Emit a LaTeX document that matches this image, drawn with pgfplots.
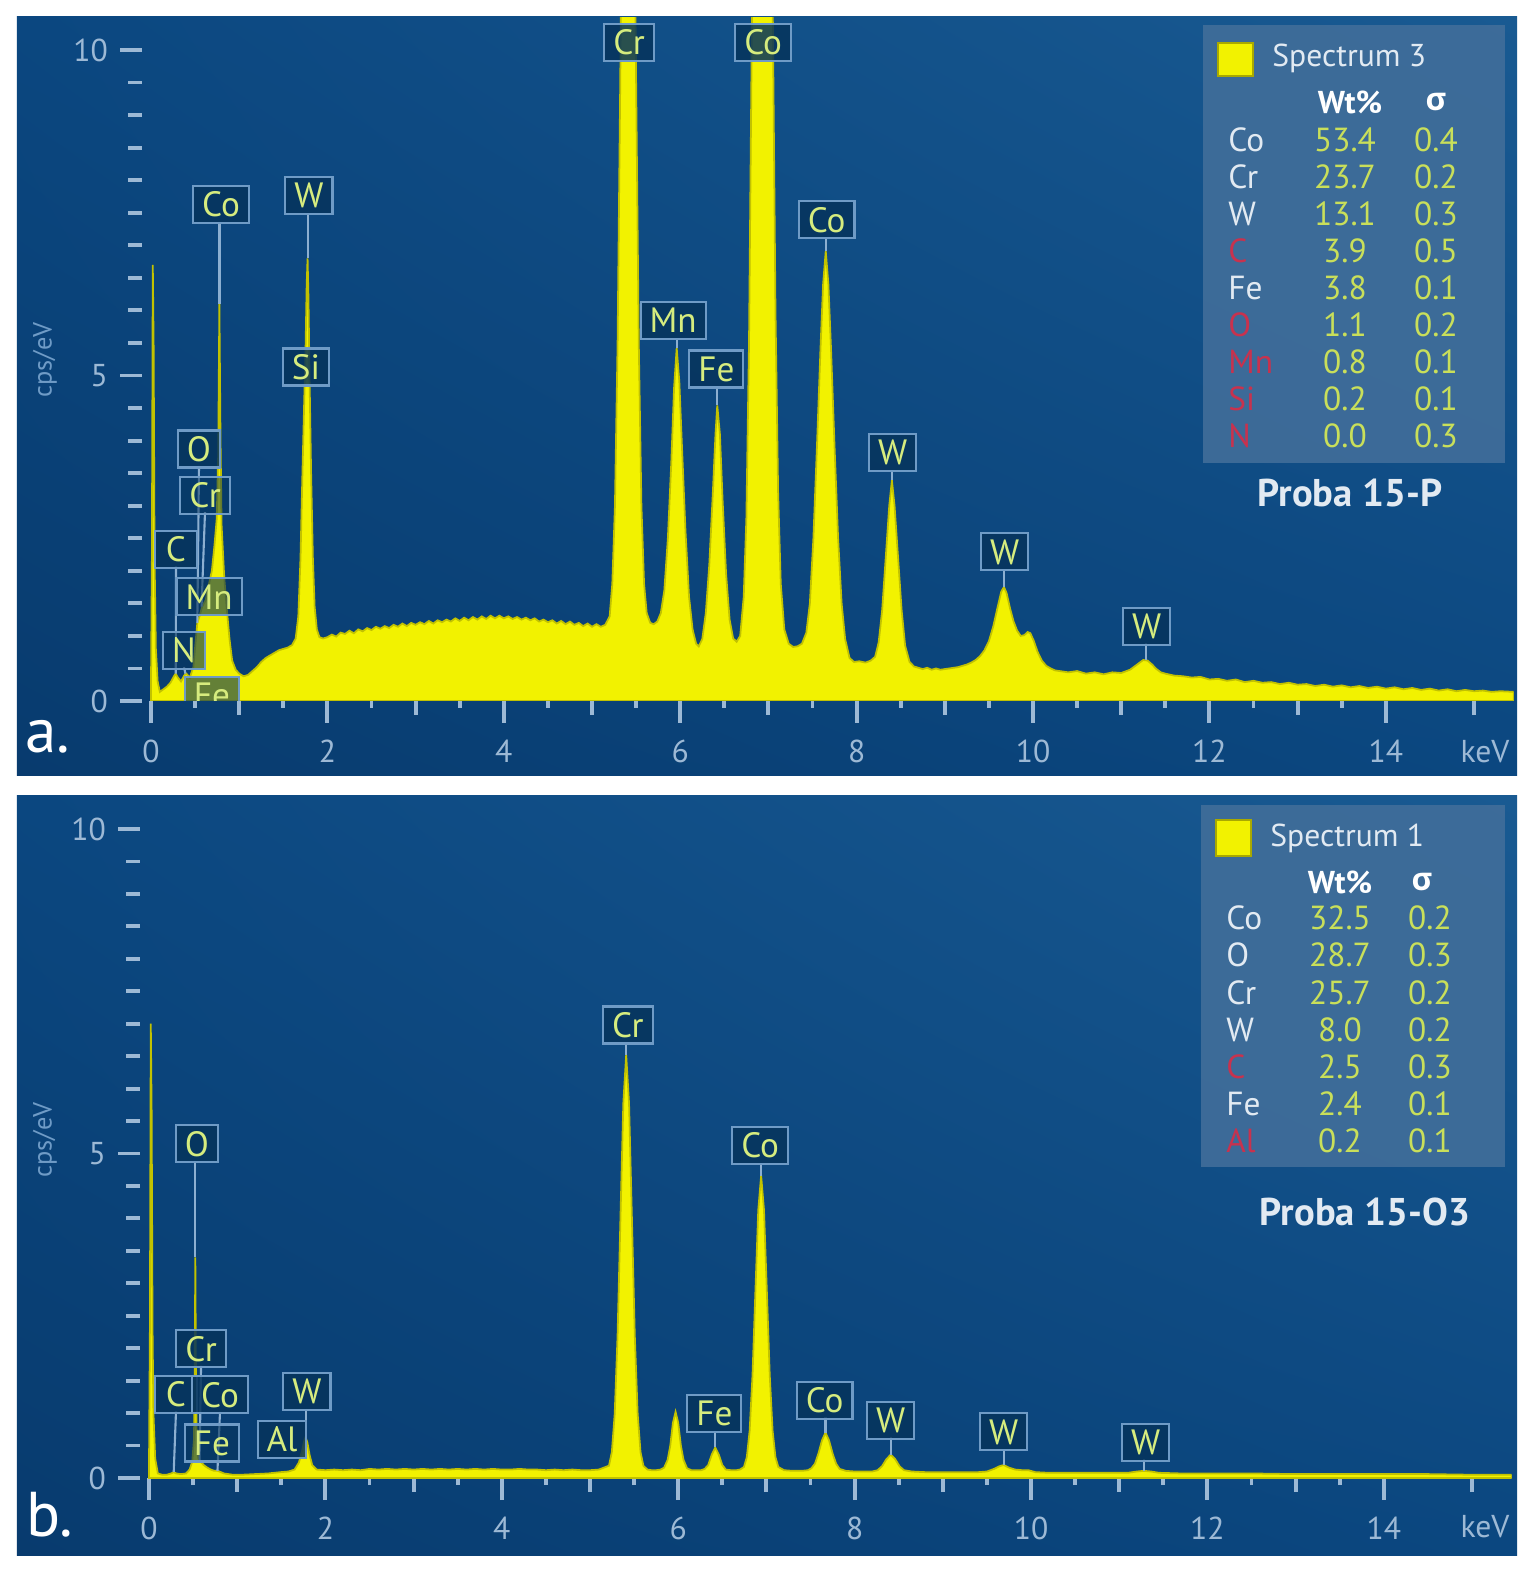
\documentclass[border=0pt]{standalone}
\usepackage{pgfplots}
\pgfplotsset{compat=1.18}
\usetikzlibrary{shadings}
\usepackage{fontspec}
\setmainfont{PT Sans}
\newfontfamily\greekf{Open Sans}
\definecolor{bgA}{HTML}{083B6E}
\definecolor{bgB}{HTML}{195A92}
\definecolor{bgC}{HTML}{0B4780}
\definecolor{tickc}{HTML}{9DB9D5}
\definecolor{specy}{HTML}{F2F200}
\definecolor{lblborder}{HTML}{6F9BC6}
\definecolor{lblfill}{HTML}{06345C}
\definecolor{lbltext}{HTML}{D6EC7E}
\definecolor{legfill}{HTML}{416E9A}
\definecolor{valc}{HTML}{C9DF5A}
\definecolor{namec}{HTML}{E2EAF2}
\definecolor{redc}{HTML}{C8324E}
\pgfplotsset{
  edsaxis/.style={
    scale only axis, width=13.715cm, height=6.8355cm,
    xmin=-0.1, xmax=15.45, ymin=0, ymax=10.5,
    axis line style={draw=none},
    xtick={0,2,...,14}, ytick={0,5,10},
    minor x tick num=3,
    extra x ticks={1,3,...,15}, extra x tick labels={},
    extra x tick style={major tick length=0.14cm, grid=none},
    extra y ticks={0.5,1,1.5,2,2.5,3,3.5,4,4.5,5.5,6,6.5,7,7.5,8,8.5,9,9.5},
    extra y tick labels={},
    extra y tick style={major tick length=0.14cm, grid=none},
    tick align=outside, xtick pos=bottom, ytick pos=left,
    major tick length=0.22cm, minor tick length=0.07cm,
    tick style={tickc, line width=1.1pt},
    /pgf/number format/assume math mode=true,
    ticklabel style={font=\fontsize{9}{10}\selectfont, text=tickc},
    xticklabel style={yshift=-0.05cm},
  },
}
\tikzset{
  lbl/.style={draw=lblborder, line width=0.6pt, fill=lblfill, fill opacity=0.85, text opacity=1,
    text=lbltext, font=\fontsize{10}{11}\selectfont, inner xsep=0.09cm, inner ysep=0.05cm,
    minimum height=0.37cm, minimum width=0.42cm},
  conn/.style={draw=lblborder!80!white, line width=0.6pt},
}
\begin{document}
\begin{tikzpicture}[x=1cm,y=1cm]
\fill[white] (0,0) rectangle (15.34,15.70);
\shade[lower left=bgA, upper right=bgB, upper left=bgC, lower right=bgC] (0.17,7.94) rectangle (15.17,15.53);
\shade[lower left=bgA, upper right=bgB, upper left=bgC, lower right=bgC] (0.17,0.14) rectangle (15.17,7.74);

% ---------------- panel a ----------------
\begin{axis}[edsaxis, at={(1.422cm,8.69cm)}, anchor=south west]
\addplot[fill=specy, draw=specy!80!black, line width=0.5pt] table {
0.000 0.30
0.010 2.20
0.020 6.70
0.030 5.40
0.040 2.20
0.055 0.80
0.075 0.30
0.100 0.14
0.140 0.18
0.180 0.22
0.220 0.28
0.260 0.38
0.280 0.42
0.300 0.37
0.340 0.30
0.380 0.40
0.400 0.42
0.440 0.36
0.480 0.52
0.505 0.90
0.525 1.20
0.550 1.30
0.580 1.45
0.620 1.55
0.650 1.75
0.690 2.00
0.720 2.40
0.745 2.80
0.762 3.80
0.775 6.10
0.788 4.00
0.800 2.70
0.830 1.90
0.860 1.40
0.890 0.95
0.920 0.62
0.960 0.48
1.000 0.42
1.050 0.38
1.100 0.40
1.150 0.46
1.200 0.52
1.250 0.60
1.300 0.66
1.350 0.70
1.400 0.74
1.450 0.78
1.500 0.80
1.550 0.82
1.600 0.86
1.640 0.96
1.670 1.30
1.695 2.20
1.715 3.40
1.735 4.50
1.752 5.40
1.765 6.40
1.775 6.80
1.785 6.20
1.797 5.00
1.815 3.50
1.835 2.20
1.855 1.45
1.880 1.10
1.910 0.98
1.950 0.96
2.00 0.98
2.05 1.02
2.10 0.99
2.15 1.05
2.20 1.03
2.25 1.08
2.30 1.04
2.35 1.10
2.40 1.07
2.45 1.12
2.50 1.09
2.55 1.14
2.60 1.11
2.65 1.15
2.70 1.12
2.75 1.17
2.80 1.14
2.85 1.19
2.90 1.15
2.95 1.20
3.00 1.17
3.05 1.21
3.10 1.18
3.15 1.23
3.20 1.19
3.25 1.24
3.30 1.21
3.35 1.25
3.40 1.22
3.45 1.27
3.50 1.23
3.55 1.28
3.60 1.24
3.65 1.29
3.70 1.25
3.75 1.30
3.80 1.26
3.85 1.31
3.90 1.27
3.95 1.31
4.00 1.27
4.05 1.30
4.10 1.26
4.15 1.29
4.20 1.25
4.25 1.28
4.30 1.24
4.35 1.27
4.40 1.22
4.45 1.25
4.50 1.21
4.55 1.24
4.60 1.19
4.65 1.23
4.70 1.18
4.75 1.22
4.80 1.17
4.85 1.20
4.90 1.15
4.95 1.19
5.00 1.14
5.05 1.18
5.10 1.14
5.15 1.17
5.20 1.30
5.23 1.80
5.26 3.00
5.29 5.50
5.32 9.50
5.35 14.0
5.38 18.5
5.41 20.0
5.44 18.5
5.47 14.0
5.50 9.50
5.53 5.50
5.56 3.00
5.59 1.80
5.62 1.35
5.66 1.20
5.70 1.18
5.74 1.22
5.78 1.35
5.82 1.70
5.86 2.50
5.90 3.70
5.93 4.80
5.96 5.42
5.99 4.90
6.02 3.90
6.06 2.60
6.10 1.60
6.14 1.10
6.18 0.88
6.21 0.84
6.25 0.95
6.29 1.35
6.33 2.10
6.37 3.20
6.40 4.10
6.42 4.54
6.45 4.10
6.48 3.10
6.52 1.95
6.56 1.25
6.60 0.96
6.64 0.91
6.68 1.00
6.72 1.60
6.75 2.80
6.78 5.50
6.81 10.0
6.84 15.0
6.88 20.0
6.93 22.0
6.98 20.0
7.02 15.0
7.05 10.5
7.08 6.00
7.11 3.20
7.14 1.80
7.18 1.10
7.23 0.88
7.28 0.83
7.33 0.84
7.38 0.88
7.43 1.05
7.47 1.50
7.51 2.50
7.55 3.90
7.59 5.40
7.62 6.40
7.65 6.91
7.68 6.40
7.71 5.40
7.75 3.90
7.79 2.50
7.83 1.50
7.87 0.95
7.92 0.66
7.97 0.60
8.03 0.61
8.10 0.59
8.16 0.62
8.21 0.68
8.25 0.90
8.29 1.40
8.33 2.20
8.37 3.00
8.40 3.39
8.43 3.00
8.47 2.20
8.51 1.40
8.55 0.85
8.60 0.60
8.65 0.53
8.70 0.51
8.75 0.49
8.80 0.51
8.85 0.48
8.90 0.50
8.95 0.48
9.00 0.49
9.05 0.50
9.10 0.51
9.15 0.52
9.20 0.54
9.25 0.56
9.30 0.59
9.35 0.63
9.40 0.69
9.45 0.78
9.50 0.92
9.55 1.15
9.60 1.45
9.64 1.68
9.67 1.75
9.70 1.66
9.74 1.42
9.78 1.22
9.82 1.08
9.86 1.00
9.90 1.01
9.94 1.06
9.97 1.04
10.01 0.92
10.05 0.76
10.10 0.62
10.15 0.54
10.20 0.50
10.25 0.47
10.30 0.46
10.40 0.44
10.50 0.46
10.60 0.42
10.70 0.44
10.80 0.41
10.90 0.44
11.00 0.43
11.10 0.48
11.15 0.53
11.20 0.58
11.25 0.63
11.30 0.62
11.35 0.56
11.40 0.49
11.45 0.44
11.50 0.42
11.60 0.39
11.70 0.38
11.80 0.36
11.90 0.37
12.00 0.33
12.10 0.34
12.20 0.31
12.30 0.33
12.40 0.29
12.50 0.31
12.60 0.28
12.70 0.29
12.80 0.26
12.90 0.28
13.00 0.25
13.10 0.26
13.20 0.23
13.30 0.25
13.40 0.22
13.50 0.24
13.60 0.21
13.70 0.23
13.80 0.20
13.90 0.22
14.00 0.19
14.10 0.21
14.20 0.18
14.30 0.20
14.40 0.17
14.50 0.19
14.60 0.16
14.70 0.18
14.80 0.15
14.90 0.17
15.00 0.15
15.10 0.16
15.20 0.14
15.30 0.15
15.45 0.14
} \closedcycle;
% connectors
\draw[conn] (axis cs:0.776,7.36) -- (axis cs:0.776,6.1);
\draw[conn] (axis cs:1.775,7.48) -- (axis cs:1.775,6.8);
\draw[conn] (axis cs:5.96,5.58) -- (axis cs:5.96,5.42);
\draw[conn] (axis cs:6.42,4.82) -- (axis cs:6.42,4.54);
\draw[conn] (axis cs:7.65,7.11) -- (axis cs:7.65,6.91);
\draw[conn] (axis cs:8.40,3.55) -- (axis cs:8.40,3.39);
\draw[conn] (axis cs:9.67,2.03) -- (axis cs:9.67,1.75);
\draw[conn] (axis cs:11.28,0.89) -- (axis cs:11.28,0.63);
\draw[conn] (axis cs:0.283,2.07) -- (axis cs:0.28,0.42);
\draw[conn] (axis cs:0.544,3.61) -- (axis cs:0.525,1.2);
\draw[conn] (axis cs:0.612,2.9) -- (axis cs:0.573,1.45);
\draw[conn] (axis cs:0.374,0.52) -- (axis cs:0.39,0.42);
% labels
\node[lbl, fill opacity=0.6] at (axis cs:0.69,0.09) {Fe};
\node[lbl, fill opacity=0.6] at (axis cs:0.374,0.78) {N};
\node[lbl, fill opacity=0.6] at (axis cs:0.658,1.60) {Mn};
\node[lbl] at (axis cs:0.283,2.33) {C};
\node[lbl, fill opacity=0.5] at (axis cs:0.612,3.16) {Cr};
\node[lbl] at (axis cs:0.544,3.87) {O};
\node[lbl] at (axis cs:1.757,5.13) {Si};
\node[lbl] at (axis cs:0.794,7.63) {Co};
\node[lbl] at (axis cs:1.79,7.76) {W};
\node[lbl] at (axis cs:5.42,10.12) {Cr};
\node[lbl] at (axis cs:6.94,10.12) {Co};
\node[lbl] at (axis cs:5.92,5.85) {Mn};
\node[lbl] at (axis cs:6.41,5.10) {Fe};
\node[lbl] at (axis cs:7.66,7.39) {Co};
\node[lbl] at (axis cs:8.41,3.82) {W};
\node[lbl] at (axis cs:9.68,2.29) {W};
\node[lbl] at (axis cs:11.29,1.15) {W};
\end{axis}

% ---------------- panel b ----------------
\begin{axis}[edsaxis, height=6.8145cm, at={(1.402cm,0.92cm)}, anchor=south west]
\addplot[fill=specy, draw=specy!80!black, line width=0.5pt] table {
0.000 0.20
0.010 2.30
0.020 7.00
0.030 5.60
0.040 2.30
0.050 1.00
0.070 0.30
0.100 0.07
0.150 0.05
0.200 0.05
0.250 0.07
0.280 0.09
0.310 0.07
0.360 0.06
0.420 0.07
0.460 0.13
0.490 0.25
0.510 0.60
0.518 1.60
0.525 3.40
0.532 1.60
0.542 0.50
0.560 0.30
0.580 0.26
0.620 0.20
0.660 0.16
0.700 0.13
0.740 0.11
0.780 0.11
0.850 0.07
0.950 0.05
1.050 0.05
1.200 0.06
1.350 0.07
1.490 0.09
1.580 0.10
1.650 0.13
1.700 0.24
1.735 0.42
1.760 0.58
1.775 0.63
1.795 0.55
1.820 0.36
1.850 0.20
1.900 0.13
2.00 0.12
2.10 0.13
2.20 0.12
2.30 0.13
2.40 0.12
2.50 0.14
2.60 0.13
2.70 0.14
2.80 0.13
2.90 0.14
3.00 0.13
3.10 0.14
3.20 0.13
3.30 0.14
3.40 0.13
3.50 0.14
3.60 0.13
3.70 0.14
3.80 0.13
3.90 0.14
4.00 0.13
4.10 0.13
4.20 0.14
4.30 0.13
4.40 0.13
4.50 0.12
4.60 0.13
4.70 0.12
4.80 0.13
4.90 0.12
5.00 0.12
5.10 0.13
5.215 0.19
5.2475 0.40
5.28 0.99
5.3125 2.20
5.345 4.00
5.3775 5.77
5.41 6.52
5.4425 5.77
5.475 4.00
5.5075 2.20
5.54 0.99
5.5725 0.40
5.605 0.19
5.65 0.13
5.70 0.12
5.75 0.12
5.80 0.13
5.84 0.16
5.88 0.28
5.91 0.50
5.94 0.85
5.97 1.02
6.00 0.85
6.03 0.50
6.06 0.28
6.10 0.15
6.15 0.12
6.20 0.12
6.26 0.12
6.30 0.14
6.34 0.20
6.38 0.36
6.42 0.47
6.46 0.36
6.50 0.20
6.54 0.13
6.60 0.12
6.66 0.12
6.70 0.13
6.745 0.17
6.7775 0.32
6.81 0.73
6.8425 1.59
6.875 2.87
6.9075 4.13
6.94 4.66
6.9725 4.13
7.005 2.87
7.0375 1.59
7.07 0.73
7.1025 0.32
7.135 0.17
7.20 0.12
7.30 0.11
7.40 0.11
7.47 0.12
7.51 0.15
7.55 0.22
7.59 0.38
7.63 0.58
7.67 0.70
7.71 0.58
7.75 0.38
7.79 0.22
7.83 0.14
7.90 0.11
8.00 0.10
8.10 0.10
8.20 0.10
8.26 0.12
8.31 0.18
8.36 0.29
8.41 0.36
8.46 0.29
8.51 0.18
8.56 0.12
8.65 0.10
8.80 0.09
9.00 0.09
9.20 0.09
9.40 0.09
9.50 0.10
9.58 0.14
9.64 0.18
9.69 0.20
9.75 0.16
9.82 0.13
9.90 0.12
9.97 0.12
10.05 0.09
10.20 0.08
10.50 0.08
10.80 0.08
11.10 0.08
11.20 0.10
11.28 0.11
11.36 0.10
11.45 0.08
11.70 0.07
12.00 0.07
12.50 0.07
13.00 0.06
13.50 0.06
14.00 0.06
14.50 0.06
15.00 0.05
15.45 0.05
} \closedcycle;
\draw[conn] (axis cs:0.525,4.87) -- (axis cs:0.525,3.4);
\draw[conn] (axis cs:5.41,6.70) -- (axis cs:5.41,6.52);
\draw[conn] (axis cs:6.94,4.85) -- (axis cs:6.94,4.66);
\draw[conn] (axis cs:0.306,1.03) -- (axis cs:0.28,0.09);
\draw[conn] (axis cs:0.805,1.02) -- (axis cs:0.776,0.11);
\draw[conn] (axis cs:0.59,1.73) -- (axis cs:0.573,0.28);
\draw[conn] (axis cs:1.775,1.07) -- (axis cs:1.775,0.63);
\draw[conn] (axis cs:6.42,0.73) -- (axis cs:6.42,0.47);
\draw[conn] (axis cs:7.67,0.94) -- (axis cs:7.67,0.70);
\draw[conn] (axis cs:8.41,0.63) -- (axis cs:8.41,0.36);
\draw[conn] (axis cs:9.69,0.45) -- (axis cs:9.69,0.20);
\draw[conn] (axis cs:11.28,0.29) -- (axis cs:11.28,0.11);
\node[lbl, fill opacity=0.6] at (axis cs:0.714,0.54) {Fe};
\node[lbl] at (axis cs:1.508,0.59) {Al};
\node[lbl] at (axis cs:0.59,1.99) {Cr};
\node[lbl] at (axis cs:0.306,1.29) {C};
\node[lbl] at (axis cs:0.805,1.28) {Co};
\node[lbl] at (axis cs:1.79,1.33) {W};
\node[lbl] at (axis cs:0.544,5.15) {O};
\node[lbl] at (axis cs:5.43,6.98) {Cr};
\node[lbl] at (axis cs:6.41,0.99) {Fe};
\node[lbl] at (axis cs:6.93,5.13) {Co};
\node[lbl] at (axis cs:7.66,1.20) {Co};
\node[lbl] at (axis cs:8.41,0.89) {W};
\node[lbl] at (axis cs:9.69,0.71) {W};
\node[lbl] at (axis cs:11.30,0.55) {W};
\end{axis}

% ---------------- outside texts ----------------
\node[text=white, font=\fontsize{18}{20}\selectfont] at (0.48,8.33) {a.};
\node[text=white, font=\fontsize{18}{20}\selectfont] at (0.50,0.55) {b.};
\node[text=tickc, font=\fontsize{9}{10}\selectfont] at (14.85,8.18) {keV};
\node[text=tickc, font=\fontsize{9}{10}\selectfont] at (14.85,0.43) {keV};
\node[rotate=90, text=lblborder, font=\fontsize{7.5}{9}\selectfont] at (0.45,12.10) {cps/eV};
\node[rotate=90, text=lblborder, font=\fontsize{7.5}{9}\selectfont] at (0.45,4.30) {cps/eV};

% legend a
\fill[legfill, opacity=0.9] (12.03,15.45) rectangle (15.05,11.07);
\fill[specy, draw=specy!70!black] (12.18,15.27) rectangle (12.53,14.94);
\node[anchor=west, text=namec, font=\fontsize{9}{11}\selectfont] at (12.60,15.12) {Spectrum 3};
\node[text=white, font=\bfseries\fontsize{9}{10}\selectfont] at (13.50,14.68) {Wt\%};
\node[text=white, font=\greekf\bfseries\fontsize{9}{10}\selectfont] at (14.36,14.68) {σ};
\foreach \n/\c/\w/\s [count=\i] in {Co/namec/53.4/0.4, Cr/namec/23.7/0.2, W/namec/13.1/0.3, C/redc/3.9/0.5, Fe/namec/3.8/0.1, O/redc/1.1/0.2, Mn/redc/0.8/0.1, Si/redc/0.2/0.1, N/redc/0.0/0.3}{
  \node[anchor=west, text=\c, font=\fontsize{9.5}{11}\selectfont] at (12.16,{14.30-0.37*(\i-1)}) {\n};
  \node[text=valc, font=\fontsize{9.5}{11}\selectfont] at (13.45,{14.30-0.37*(\i-1)}) {\w};
  \node[text=valc, font=\fontsize{9.5}{11}\selectfont] at (14.36,{14.30-0.37*(\i-1)}) {\s};
}
\node[text=namec, font=\bfseries\fontsize{11}{13}\selectfont] at (13.50,10.77) {Proba 15-P};

% legend b
\fill[legfill, opacity=0.9] (12.01,7.65) rectangle (15.05,4.03);
\fill[specy, draw=specy!70!black] (12.16,7.50) rectangle (12.51,7.14);
\node[anchor=west, text=namec, font=\fontsize{9}{11}\selectfont] at (12.58,7.32) {Spectrum 1};
\node[text=white, font=\bfseries\fontsize{9}{10}\selectfont] at (13.40,6.88) {Wt\%};
\node[text=white, font=\greekf\bfseries\fontsize{9}{10}\selectfont] at (14.22,6.88) {σ};
\foreach \n/\c/\w/\s [count=\i] in {Co/namec/32.5/0.2, O/namec/28.7/0.3, Cr/namec/25.7/0.2, W/namec/8.0/0.2, C/redc/2.5/0.3, Fe/namec/2.4/0.1, Al/redc/0.2/0.1}{
  \node[anchor=west, text=\c, font=\fontsize{9.5}{11}\selectfont] at (12.14,{6.52-0.372*(\i-1)}) {\n};
  \node[text=valc, font=\fontsize{9.5}{11}\selectfont] at (13.40,{6.52-0.372*(\i-1)}) {\w};
  \node[text=valc, font=\fontsize{9.5}{11}\selectfont] at (14.30,{6.52-0.372*(\i-1)}) {\s};
}
\node[text=namec, font=\bfseries\fontsize{11}{13}\selectfont] at (13.65,3.58) {Proba 15-O3};
\end{tikzpicture}
\end{document}
